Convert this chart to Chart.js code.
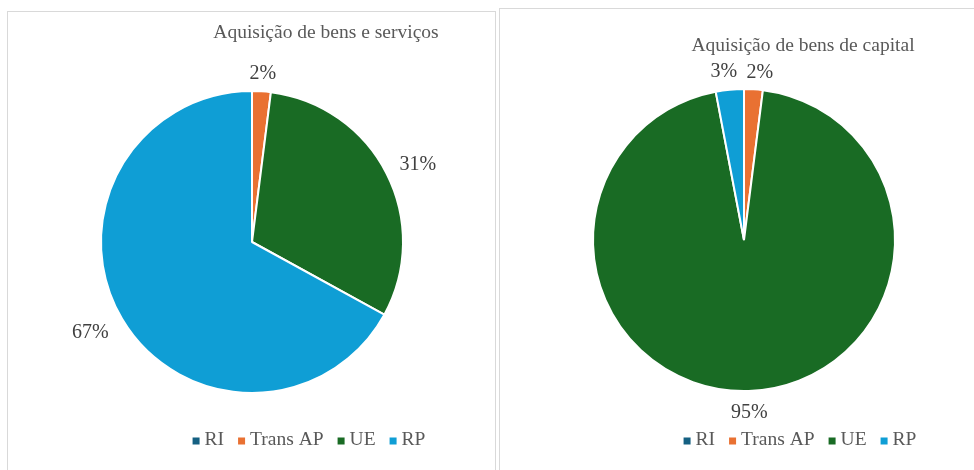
<!DOCTYPE html>
<html>
<head>
<meta charset="utf-8">
<script src="https://cdn.jsdelivr.net/npm/chart.js@4/dist/chart.umd.min.js"></script>
<style>
  body { margin: 0; background: #fff; width: 974px; height: 470px; overflow: hidden; position: relative; font-family: "Liberation Serif", serif; }
  .panel { position: absolute; border: 1px solid #d9d9d9; background: #fff; }
  #p1 { left: 7px; top: 11px; width: 487px; height: 470px; }
  #p2 { left: 499px; top: 8px; width: 490px; height: 470px; border-right: none; }
  canvas { display: block; }
</style>
</head>
<body>
<div class="panel" id="p1"><canvas id="c1" width="487" height="458"></canvas></div>
<div class="panel" id="p2"><canvas id="c2" width="475" height="461"></canvas></div>
<script>
const categories = ['RI', 'Trans AP', 'UE', 'RP'];
const colors = ['#156082', '#E97132', '#196B24', '#0F9ED5'];
const servicosValues = [0, 2, 31, 67];
const capitalValues = [0, 2, 95, 3];
const titles = ['Aquisição de bens e serviços', 'Aquisição de bens de capital'];

const textColor = '#595959';
const labelColor = '#404040';
const serif = '"Liberation Serif"';

// draws title, outside percentage labels and a legend
const decorPlugin = {
  id: 'decor',
  afterDatasetsDraw(chart, args, opts) {
    const ctx = chart.ctx;
    ctx.save();
    ctx.fillStyle = textColor;
    ctx.textAlign = 'center';
    ctx.textBaseline = 'middle';

    ctx.font = '19.5px ' + serif;
    ctx.fillText(opts.title, opts.titleX, opts.titleY);

    const meta = chart.getDatasetMeta(0);
    const data = chart.data.datasets[0].data;
    ctx.font = '20px ' + serif;
    ctx.fillStyle = labelColor;
    meta.data.forEach((arc, i) => {
      if (!data[i]) return;
      const p = arc.getProps(['x', 'y', 'startAngle', 'endAngle', 'outerRadius'], true);
      const mid = (p.startAngle + p.endAngle) / 2;
      const s = Math.abs(Math.cos(mid));
      const r = p.outerRadius + 20 + 17 * s;
      const n = opts.nudge[i] || [0, 0];
      ctx.fillText(data[i] + '%', p.x + Math.cos(mid) * r + n[0], p.y + Math.sin(mid) * r + n[1]);
    });

    // legend
    ctx.font = '19.5px ' + serif;
    const box = 7, gapText = 5, gapItem = 14;
    const widths = categories.map(c => ctx.measureText(c).width);
    let total = 0;
    widths.forEach((w, i) => { total += box + gapText + w + (i < widths.length - 1 ? gapItem : 0); });
    let x = opts.legendX - total / 2;
    ctx.textAlign = 'left';
    categories.forEach((c, i) => {
      ctx.fillStyle = colors[i];
      ctx.fillRect(x, opts.legendY - box / 2 + 1, box, box);
      x += box + gapText;
      ctx.fillStyle = textColor;
      ctx.fillText(c, x, opts.legendY);
      x += widths[i] + gapItem;
    });
    ctx.restore();
  }
};

function makePie(id, values, title, pad, decor) {
  new Chart(document.getElementById(id), {
    type: 'pie',
    data: {
      labels: categories,
      datasets: [{
        data: values,
        backgroundColor: colors,
        borderColor: '#ffffff',
        borderWidth: 2
      }]
    },
    options: {
      responsive: false,
      animation: false,
      layout: { padding: pad },
      plugins: {
        legend: { display: false },
        tooltip: { enabled: false },
        decor: Object.assign({ title: title }, decor)
      }
    },
    plugins: [decorPlugin]
  });
}

function build() {
  makePie('c1', servicosValues, titles[0],
    { left: 92, right: 91, top: 78, bottom: 76 },
    { titleX: 318, titleY: 21, legendX: 301, legendY: 428,
      nudge: { 1: [0, 3], 2: [0, 7], 3: [-2, -4] } });

  makePie('c2', capitalValues, titles[1],
    { left: 92, right: 79, top: 79, bottom: 78 },
    { titleX: 303, titleY: 37, legendX: 300, legendY: 431,
      nudge: { 1: [5, 4], 2: [0, 1], 3: [-4, 4] } });
}

document.fonts.load('20px "Liberation Serif"').then(build, build);
</script>
</body>
</html>
